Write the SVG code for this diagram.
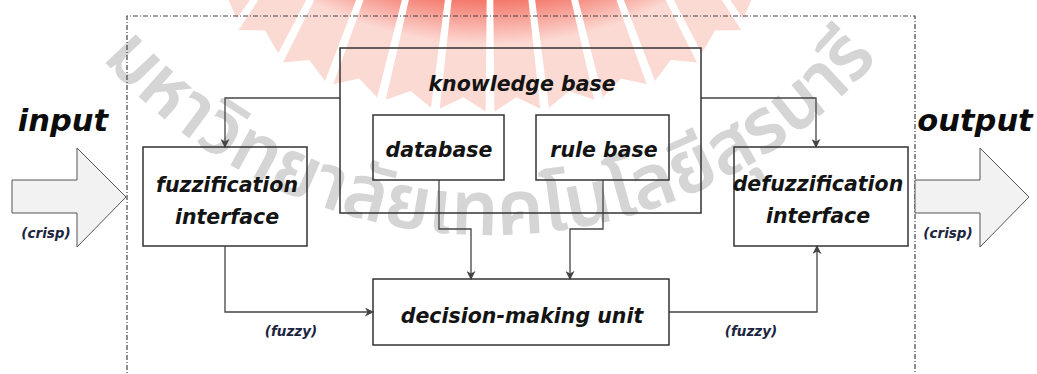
<svg xmlns="http://www.w3.org/2000/svg" xmlns:xlink="http://www.w3.org/1999/xlink" width="1037" height="374" viewBox="0 0 1037 374">
  <style>
    .box { fill: none; stroke: #333; stroke-width: 1.5; }
    .wire { fill: none; stroke: #444; stroke-width: 1.3; }
    .frame { fill: none; stroke: #444; stroke-width: 1.2; stroke-dasharray: 5 2 1 2; }
    .bigarrow { fill: #f2f2f2; stroke: #555; stroke-width: 1; }
    .lbl { font-family: "DejaVu Sans", "Liberation Sans", sans-serif; font-weight: bold; font-style: italic; font-size: 20.5px; fill: #141414; text-anchor: middle; }
    .io { font-family: "DejaVu Sans", "Liberation Sans", sans-serif; font-weight: bold; font-style: italic; font-size: 30.5px; fill: #0c0c0c; text-anchor: middle; }
    .tag { font-family: "DejaVu Sans", "Liberation Sans", sans-serif; font-weight: bold; font-style: italic; font-size: 13.5px; fill: #1c2540; text-anchor: middle; }
    .mark { font-family: "Noto Sans Thai", "Noto Sans", "DejaVu Sans", sans-serif; font-weight: 600; font-size: 76px; fill: #d5d5d5; }
  </style>
  <defs>
    <marker id="arr" viewBox="0 0 10 10" refX="9" refY="5" markerWidth="9" markerHeight="9" markerUnits="userSpaceOnUse" orient="auto">
      <path d="M0,0 L10,5 L0,10 L3,5 z" fill="#444"/>
    </marker>
    <linearGradient id="ray" gradientUnits="userSpaceOnUse" x1="0" y1="0" x2="0" y2="45">
      <stop offset="0" stop-color="#f4786b"/>
      <stop offset="1" stop-color="#fcdad4"/>
    </linearGradient>
    <polygon id="sunray" points="477.5,-100 502.5,-100 513,111 490,98 467,111"/>
    <path id="arc" d="M84.2,37.1 A515,515 0 0,0 895.8,37.1"/>
  </defs>

  <rect width="1037" height="374" fill="#fff"/>

  <!-- background emblem: sun rays and curved name -->
  <g id="emblem" fill="url(#ray)">
    <use xlink:href="#sunray" transform="rotate(37.4 490 -350) translate(0 -14)"/>
    <use xlink:href="#sunray" transform="rotate(30.6 490 -350) translate(0 -6)"/>
    <use xlink:href="#sunray" transform="rotate(23.8 490 -350)"/>
    <use xlink:href="#sunray" transform="rotate(17 490 -350)"/>
    <use xlink:href="#sunray" transform="rotate(10.2 490 -350)"/>
    <use xlink:href="#sunray" transform="rotate(3.4 490 -350)"/>
    <use xlink:href="#sunray" transform="rotate(-3.4 490 -350)"/>
    <use xlink:href="#sunray" transform="rotate(-10.2 490 -350)"/>
    <use xlink:href="#sunray" transform="rotate(-17 490 -350)"/>
    <use xlink:href="#sunray" transform="rotate(-23.8 490 -350)"/>
    <use xlink:href="#sunray" transform="rotate(-30.6 490 -350) translate(0 -6)"/>
    <use xlink:href="#sunray" transform="rotate(-37.4 490 -350) translate(0 -14)"/>
  </g>
  <text class="mark"><textPath xlink:href="#arc" startOffset="50%" text-anchor="middle" textLength="880" lengthAdjust="spacingAndGlyphs">มหาวิทยาลัยเทคโนโลยีสุรนารี</textPath></text>

  <!-- system boundary -->
  <path class="frame" d="M127,380 V16 H915 V380"/>

  <!-- crisp input / output arrows -->
  <g id="input">
    <polygon class="bigarrow" points="12,180 77,180 77,148 126,197 77,247 77,213 12,213"/>
    <text class="io" x="63" y="131">input</text>
    <text class="tag" x="46" y="238">(crisp)</text>
  </g>
  <g id="output">
    <polygon class="bigarrow" points="915,180 980,180 980,148 1029,197 980,247 980,213 915,213"/>
    <text class="io" x="975" y="131">output</text>
    <text class="tag" x="948" y="238">(crisp)</text>
  </g>

  <!-- connectors -->
  <g id="connectors">
    <path class="wire" d="M340,98 H225 V147" marker-end="url(#arr)"/>
    <path class="wire" d="M701,98 H816 V147" marker-end="url(#arr)"/>
    <path class="wire" d="M439,180 V229 H471 V279" marker-end="url(#arr)"/>
    <path class="wire" d="M603,180 V229 H570 V279" marker-end="url(#arr)"/>
    <path class="wire" d="M225,246 V312 H373" marker-end="url(#arr)"/>
    <path class="wire" d="M669,312 H817 V246" marker-end="url(#arr)"/>
    <text class="tag" x="291" y="336">(fuzzy)</text>
    <text class="tag" x="751" y="336">(fuzzy)</text>
  </g>

  <!-- blocks -->
  <g id="knowledge-base">
    <rect class="box" x="340" y="48" width="361" height="165"/>
    <text class="lbl" x="522" y="91">knowledge base</text>
  </g>
  <g id="database">
    <rect class="box" x="373" y="115" width="131" height="65"/>
    <text class="lbl" x="439" y="157">database</text>
  </g>
  <g id="rule-base">
    <rect class="box" x="536" y="115" width="133" height="65"/>
    <text class="lbl" x="604" y="157">rule base</text>
  </g>
  <g id="fuzzification">
    <rect class="box" x="143" y="147" width="164" height="99"/>
    <text class="lbl" x="227" y="192">fuzzification</text>
    <text class="lbl" x="227" y="224">interface</text>
  </g>
  <g id="defuzzification">
    <rect class="box" x="734" y="147" width="174" height="99"/>
    <text class="lbl" x="818" y="191">defuzzification</text>
    <text class="lbl" x="818" y="223">interface</text>
  </g>
  <g id="decision-making">
    <rect class="box" x="373" y="279" width="296" height="66"/>
    <text class="lbl" x="522" y="323">decision-making unit</text>
  </g>
</svg>
